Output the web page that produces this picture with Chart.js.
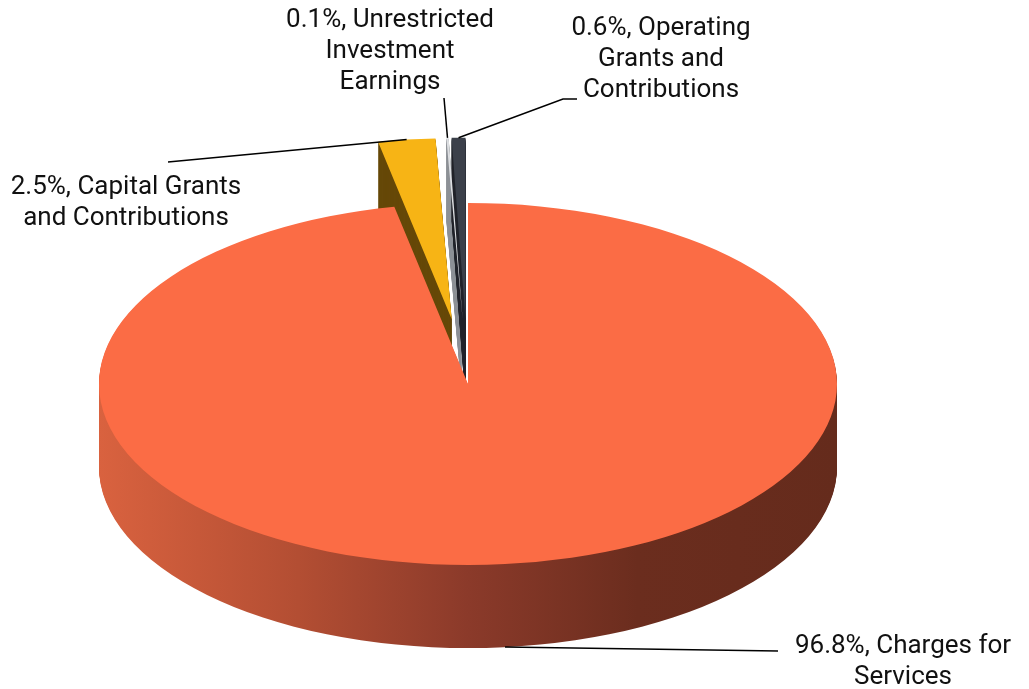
<!DOCTYPE html>
<html>
<head>
<meta charset="utf-8">
<title>Program revenues</title>
<script src="https://cdn.jsdelivr.net/npm/chart.js@4.4.1/dist/chart.umd.min.js"></script>
<style>
  html, body { margin: 0; padding: 0; background: #fff; }
  #wrap { width: 1029px; height: 689px; }
</style>
</head>
<body>
<div id="wrap"><canvas id="pieChart" width="1029" height="689"></canvas></div>
<script>
// values (percent of total)
const categories = [
    'Charges for Services',
    'Capital Grants and Contributions',
    'Unrestricted Investment Earnings',
    'Operating Grants and Contributions'
];
const shares = [96.8, 2.5, 0.1, 0.6];

// look of the slices
const topColors = ['#fb6c45', '#f7b415', '#dcdee1', '#3b404a'];
const sideColors = [null, '#664808', '#8e9197', '#22262d'];
const explode = [0, 110, 110, 110];          // pulled out, in chart units
const tilt = { rx: 369, ry: 181, depth: 83 }; // screen size of the top face + thickness

// where the labels sit (centre of first line) and where their leader starts
const labelFont = '26px Roboto';
const labelLineHeight = 31;
const labelBoxes = [
    { x: 903, y: 646, maxWidth: 240, from: [778, 651] },
    { x: 126, y: 187, maxWidth: 240, from: [168, 162] },
    { x: 390, y: 20, maxWidth: 220, from: [444, 98] },
    { x: 661, y: 28, maxWidth: 200, from: [577, 99], elbow: [563, 99] }
];

// geometry shared by the plugins
function pieGeometry(chart) {
    const arcs = chart.getDatasetMeta(0).data;
    const first = arcs[0];
    const R = first.outerRadius;
    return {
        arcs: arcs,
        cx: first.x,
        cy: first.y,
        R: R,
        sx: tilt.rx / R,
        sy: tilt.ry / R
    };
}

function explodeOffset(arc, i) {
    const mid = (arc.startAngle + arc.endAngle) / 2;
    return { x: Math.cos(mid) * explode[i], y: Math.sin(mid) * explode[i] };
}

function sideGradient(ctx, g) {
    const left = g.cx - tilt.rx;
    const right = g.cx + tilt.rx;
    const grad = ctx.createLinearGradient(left, 0, right, 0);
    grad.addColorStop(0, '#d9623f');
    grad.addColorStop(0.27, '#b34e33');
    grad.addColorStop(0.5, '#8b3a2a');
    grad.addColorStop(0.73, '#6b2d1e');
    grad.addColorStop(1, '#652b1c');
    return grad;
}

// draws the pie as a tilted disc with a side wall
const pie3d = {
    id: 'pie3d',
    beforeDatasetsDraw(chart) {
        const ctx = chart.ctx;
        const g = pieGeometry(chart);

        // side walls first, big slice at the back of the stack
        g.arcs.forEach((arc, i) => {
            const o = explodeOffset(arc, i);
            const scx = g.cx + o.x * g.sx;
            const scy = g.cy + o.y * g.sy;
            ctx.save();
            ctx.fillStyle = sideColors[i] || sideGradient(ctx, g);
            for (let k = tilt.depth; k >= 1; k--) {
                ctx.beginPath();
                ctx.moveTo(scx, scy + k);
                ctx.ellipse(scx, scy + k, g.R * g.sx, g.R * g.sy, 0, arc.startAngle, arc.endAngle);
                ctx.closePath();
                ctx.fill();
            }
            ctx.restore();
        });

        // top faces, drawn by the arc elements under a squash transform
        g.arcs.forEach((arc, i) => {
            const o = explodeOffset(arc, i);
            ctx.save();
            ctx.translate(g.cx, g.cy);
            ctx.scale(g.sx, g.sy);
            ctx.translate(-g.cx + o.x, -g.cy + o.y);
            arc.draw(ctx);
            ctx.restore();
        });
        return false;
    },
    afterDraw(chart) {
        const ctx = chart.ctx;
        const g = pieGeometry(chart);
        ctx.save();
        ctx.font = labelFont;
        ctx.fillStyle = '#111';
        ctx.strokeStyle = '#000';
        ctx.lineWidth = 1.5;
        ctx.textAlign = 'center';
        ctx.textBaseline = 'middle';

        g.arcs.forEach((arc, i) => {
            const box = labelBoxes[i];
            const o = explodeOffset(arc, i);
            const mid = (arc.startAngle + arc.endAngle) / 2;
            let ax = g.cx + g.sx * (o.x + g.R * Math.cos(mid));
            let ay = g.cy + g.sy * (o.y + g.R * Math.sin(mid));
            if (Math.sin(mid) > 0) ay += tilt.depth;

            // leader line
            ctx.beginPath();
            ctx.moveTo(box.from[0], box.from[1]);
            if (box.elbow) ctx.lineTo(box.elbow[0], box.elbow[1]);
            ctx.lineTo(ax, ay);
            ctx.stroke();

            // label text
            const text = shares[i].toFixed(1) + '%, ' + categories[i];
            const lines = wrapText(ctx, text, box.maxWidth);
            lines.forEach((line, n) => {
                ctx.fillText(line, box.x, box.y + n * labelLineHeight);
            });
        });
        ctx.restore();
    }
};

function wrapText(ctx, text, maxWidth) {
    const words = text.split(' ');
    const lines = [];
    let line = '';
    words.forEach(w => {
        const test = line ? line + ' ' + w : w;
        if (line && ctx.measureText(test).width > maxWidth) {
            lines.push(line);
            line = w;
        } else {
            line = test;
        }
    });
    if (line) lines.push(line);
    return lines;
}

document.addEventListener('DOMContentLoaded', () => {
    const ctx = document.getElementById('pieChart').getContext('2d');
    new Chart(ctx, {
        type: 'pie',
        data: {
            labels: categories,
            datasets: [{
                data: shares,
                backgroundColor: topColors,
                borderWidth: 0
            }]
        },
        options: {
            responsive: false,
            animation: false,
            layout: {
                padding: { left: 0, right: 93, top: 79, bottom: 0 }
            },
            plugins: {
                legend: { display: false },
                tooltip: { enabled: false }
            }
        },
        plugins: [pie3d]
    });
});
</script>
</body>
</html>
